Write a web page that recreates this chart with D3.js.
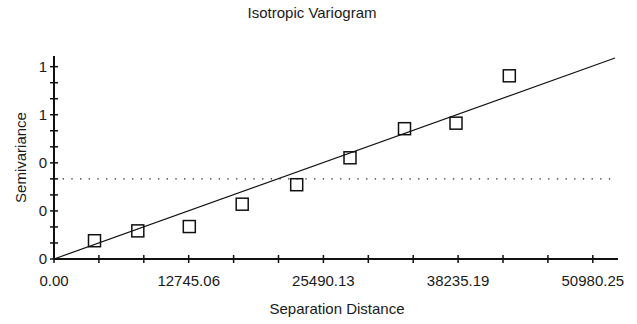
<!DOCTYPE html>
<html>
<head>
<meta charset="utf-8">
<script src="https://cdn.jsdelivr.net/npm/d3@7"></script>
<style>
  html, body { margin: 0; padding: 0; background: #fff; }
  svg text { font-family: Arial, "Liberation Sans", sans-serif; fill: #1a1a1a; }
</style>
</head>
<body>
<div id="chart"></div>
<script>
// experimental variogram (lag distance, semivariance)
const lagDistances = [3832, 7929, 12802, 17807, 22963, 28007, 33163, 38036, 43079]
const semivariances = [0.076, 0.117, 0.135, 0.228, 0.309, 0.421, 0.542, 0.565, 0.762]

// fitted linear model, drawn between two ends
const modelLine = [[0, 0], [53080, 0.836]]
const sill = 0.333

const xTickStep = 4248.35
const xTickLabels = ['0.00', '12745.06', '25490.13', '38235.19', '50980.25']
const yTickStep = 0.2 / 3
const yTickLabels = ['0', '0', '0', '1', '1']

const width = 637
const height = 324
const margin = { left: 54, right: 19, top: 56, bottom: 65 }

const svg = d3.select('#chart')
  .append('svg')
  .attr('width', width)
  .attr('height', height)

const x = d3.scaleLinear()
  .domain([0, 53363])
  .range([margin.left, width - margin.right])

const y = d3.scaleLinear()
  .domain([0, 0.8444])
  .range([height - margin.bottom, margin.top])

// Title
svg.append('text')
  .attr('x', 312)
  .attr('y', 18)
  .attr('text-anchor', 'middle')
  .attr('font-size', '15px')
  .text('Isotropic Variogram')

// Sill (dotted)
svg.append('line')
  .attr('x1', x(0))
  .attr('x2', x(modelLine[1][0]))
  .attr('y1', y(sill))
  .attr('y2', y(sill))
  .attr('stroke', '#222')
  .attr('stroke-width', 1.3)
  .attr('stroke-dasharray', '1.3,7.37')

// Model
svg.append('path')
  .datum(modelLine)
  .attr('d', d3.line().x(d => x(d[0])).y(d => y(d[1])))
  .attr('fill', 'none')
  .attr('stroke', '#111')
  .attr('stroke-width', 1.2)

// Points (squares)
const pts = lagDistances.map((d, i) => ({ h: d, g: semivariances[i] }))
const sq = 12
svg.append('g')
  .selectAll('rect')
  .data(pts)
  .join('rect')
  .attr('x', d => x(d.h) - sq / 2)
  .attr('y', d => y(d.g) - sq / 2)
  .attr('width', sq)
  .attr('height', sq)
  .attr('fill', 'none')
  .attr('stroke', '#111')
  .attr('stroke-width', 1.5)

// X axis
const xTicks = d3.range(0, 13).map(i => i * xTickStep)
const xAxis = svg.append('g')
xAxis.append('line')
  .attr('x1', x(0)).attr('x2', x.range()[1])
  .attr('y1', y(0)).attr('y2', y(0))
  .attr('stroke', '#111').attr('stroke-width', 2)
xAxis.selectAll('line.tick')
  .data(xTicks)
  .join('line')
  .attr('class', 'tick')
  .attr('x1', d => x(d)).attr('x2', d => x(d))
  .attr('y1', y(0) - 4).attr('y2', y(0) + 4)
  .attr('stroke', '#111').attr('stroke-width', 1.5)
xAxis.selectAll('text')
  .data(xTickLabels)
  .join('text')
  .attr('x', (d, i) => x(i * 3 * xTickStep))
  .attr('y', 286)
  .attr('text-anchor', 'middle')
  .attr('font-size', '15px')
  .text(d => d)

svg.append('text')
  .attr('x', 337)
  .attr('y', 314)
  .attr('text-anchor', 'middle')
  .attr('font-size', '15px')
  .text('Separation Distance')

// Y axis
const yTicks = d3.range(0, 13).map(i => i * yTickStep)
const yAxis = svg.append('g')
yAxis.append('line')
  .attr('x1', x(0)).attr('x2', x(0))
  .attr('y1', y(0)).attr('y2', y.range()[1])
  .attr('stroke', '#111').attr('stroke-width', 2)
yAxis.selectAll('line.tick')
  .data(yTicks)
  .join('line')
  .attr('class', 'tick')
  .attr('x1', x(0) - 4).attr('x2', x(0) + 4)
  .attr('y1', d => y(d)).attr('y2', d => y(d))
  .attr('stroke', '#111').attr('stroke-width', 1.5)
yAxis.selectAll('text')
  .data(yTickLabels)
  .join('text')
  .attr('x', 47)
  .attr('y', (d, i) => y(i * 3 * yTickStep))
  .attr('dy', '0.35em')
  .attr('text-anchor', 'end')
  .attr('font-size', '15px')
  .text(d => d)

svg.append('text')
  .attr('transform', `translate(26,${(y(0) + y.range()[1]) / 2}) rotate(-90)`)
  .attr('text-anchor', 'middle')
  .attr('font-size', '15px')
  .text('Semivariance')
</script>
</body>
</html>
